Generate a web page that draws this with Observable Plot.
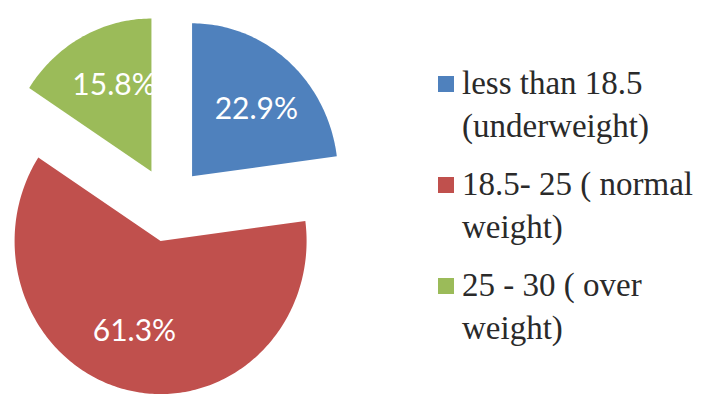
<!DOCTYPE html>
<html><head><meta charset="utf-8">
<script src="https://cdn.jsdelivr.net/npm/d3@7"></script>
<script src="https://cdn.jsdelivr.net/npm/@observablehq/plot@0.6"></script>
<style>
body{margin:0;background:#fff}
#wrap{position:relative;width:718px;height:394px;overflow:hidden}
#wrap svg{position:absolute;left:0;top:0}
.item{position:absolute;left:462px;font-family:"Liberation Serif","Tinos","Times New Roman","Times","Noto Serif","DejaVu Serif","FreeSerif","Nimbus Roman",serif;font-size:33px;line-height:43px;color:#2a2a2a;white-space:nowrap}
.sw{position:absolute;left:-24px;top:14px;width:16px;height:16px}
</style></head><body><div id="wrap"></div>
<script>
const categories = ["less than 18.5 (underweight)", "18.5- 25 ( normal weight)", "25 - 30 ( over weight)"];
const legendLines = [["less than 18.5", "(underweight)"], ["18.5- 25 ( normal", "weight)"], ["25 - 30 ( over", "weight)"]];
const values = [22.9, 61.3, 15.8];
const valueLabels = ["22.9%", "61.3%", "15.8%"];
const colors = ["#4F81BD", "#C0504D", "#9BBB59"];

const W = 718, H = 394;
const cxPx = 168, cyPx = 204, pxX = 146, pxY = 153;
const explode = 0.245, labelR = 0.62;
const total = d3.sum(values);
let acc = 0;
const slices = values.map((v, i) => {
  const a0 = acc / total * 2 * Math.PI; acc += v;
  const a1 = acc / total * 2 * Math.PI;
  return {cat: categories[i], label: valueLabels[i], a0, a1, mid: (a0 + a1) / 2};
});
const pts = [];
const labs = [];
for (const s of slices) {
  const ox = explode * Math.sin(s.mid), oy = explode * Math.cos(s.mid);
  pts.push({cat: s.cat, x: ox, y: oy});
  const n = Math.ceil((s.a1 - s.a0) / (Math.PI / 180));
  for (let k = 0; k <= n; k++) {
    const a = s.a0 + (s.a1 - s.a0) * k / n;
    pts.push({cat: s.cat, x: ox + Math.sin(a), y: oy + Math.cos(a)});
  }
  const la = s.mid + 0.07;
  labs.push({cat: s.cat, label: s.label, x: ox + labelR * Math.sin(la), y: oy + labelR * Math.cos(la)});
}

const chart = Plot.plot({
  width: W, height: H,
  marginTop: 0, marginBottom: 0, marginLeft: 0, marginRight: 0,
  x: {domain: [-cxPx / pxX, (W - cxPx) / pxX], axis: null},
  y: {domain: [-(H - cyPx) / pxY, cyPx / pxY], axis: null},
  color: {domain: categories, range: colors},
  style: {background: "#fff"},
  marks: [
    Plot.line(pts, {x: "x", y: "y", z: "cat", fill: "cat", stroke: "none", curve: "linear-closed"}),
    Plot.text(labs, {x: "x", y: "y", text: "label", fill: "white", fontSize: 30, fontFamily: "Lato, 'Open Sans', sans-serif"})
  ]
});
const wrap = document.getElementById("wrap");
wrap.appendChild(chart);
const tops = [62, 163, 264];
legendLines.forEach((lines, i) => {
  const d = document.createElement("div");
  d.className = "item";
  d.style.top = tops[i] + "px";
  d.innerHTML = `<span class="sw" style="background:${colors[i]}"></span>${lines[0]}<br>${lines[1]}`;
  wrap.appendChild(d);
});
</script></body></html>
